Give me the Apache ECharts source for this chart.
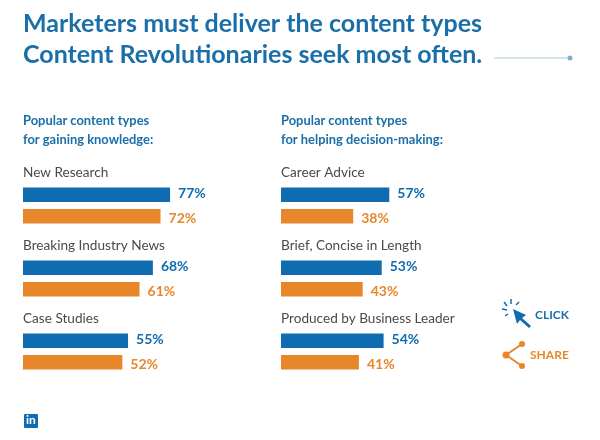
<!DOCTYPE html>
<html lang="en">
<head>
<meta charset="UTF-8">
<title>Content types</title>
<script src="https://cdn.jsdelivr.net/npm/echarts@6/dist/echarts.min.js"></script>
<style>
    html, body { margin: 0; padding: 0; background: #fff; }
    #container { width: 600px; height: 440px; }
</style>
</head>
<body>
<div id="container"></div>
<script type="text/javascript">
    var knowledgeTypes = ['New Research', 'Breaking Industry News', 'Case Studies'];
    var knowledgeBlue = [77, 68, 55];
    var knowledgeOrange = [72, 61, 52];
    var decisionTypes = ['Career Advice', 'Brief, Concise in Length', 'Produced by Business Leader'];
    var decisionBlue = [57, 53, 54];
    var decisionOrange = [38, 43, 41];

    var BLUE = '#0f6cb0';
    var ORANGE = '#e8862a';
    var TITLE_BLUE = '#1b6fa8';
    var FONT = 'Lato, "Noto Sans", sans-serif';

    var myChart = echarts.init(document.getElementById('container'), null, { renderer: 'canvas' });

    function barSeries(index, values, color, labelShift) {
        return {
            type: 'bar',
            xAxisIndex: index,
            yAxisIndex: index,
            data: values,
            barWidth: 14.5,
            barGap: '48%',
            silent: true,
            itemStyle: { color: color },
            label: {
                show: true,
                position: 'right',
                distance: 8,
                offset: [0, labelShift],
                formatter: '{c}%',
                color: color,
                fontFamily: FONT,
                fontWeight: 'bold',
                fontSize: 14
            }
        };
    }

    function catAxis(index, names) {
        return {
            type: 'category',
            gridIndex: index,
            inverse: true,
            data: names,
            axisLine: { show: false },
            axisTick: { show: false },
            axisLabel: {
                inside: true,
                margin: 0,
                align: 'left',
                verticalAlign: 'middle',
                hideOverlap: false,
                interval: 0,
                // empty second line pushes the name up above its bars
                formatter: function (name) { return '{name|' + name + '}\n{gap|}'; },
                rich: {
                    name: { color: '#4a4a4a', fontFamily: FONT, fontSize: 13.6, height: 16, align: 'left' },
                    gap: { height: 65 }
                }
            }
        };
    }

    function valAxis(index) {
        return { type: 'value', gridIndex: index, min: 0, max: 100, show: false };
    }

    var subStyle = { color: TITLE_BLUE, fontFamily: FONT, fontWeight: 'bold', fontSize: 12.9, lineHeight: 19 };

    var option = {
        animation: false,
        backgroundColor: '#fff',
        title: [
            {
                text: 'Marketers must deliver the content types\nContent Revolutionaries seek most often.',
                left: 23, top: 8, padding: 0,
                textStyle: { color: TITLE_BLUE, fontFamily: FONT, fontWeight: 'bold', fontSize: 25, lineHeight: 31 }
            },
            { text: 'Popular content types\nfor gaining knowledge:', left: 23, top: 111, padding: 0, textStyle: subStyle },
            { text: 'Popular content types\nfor helping decision-making:', left: 281, top: 111, padding: 0, textStyle: subStyle }
        ],
        grid: [
            { left: 23, top: 169, width: 191, height: 219 },
            { left: 281, top: 169, width: 190, height: 219 }
        ],
        xAxis: [valAxis(0), valAxis(1)],
        yAxis: [catAxis(0, knowledgeTypes), catAxis(1, decisionTypes)],
        series: [
            barSeries(0, knowledgeBlue, BLUE, -1),
            barSeries(0, knowledgeOrange, ORANGE, 2),
            barSeries(1, decisionBlue, BLUE, -1),
            barSeries(1, decisionOrange, ORANGE, 2)
        ],
        // decoration: rule after the title, click / share icons, logo
        graphic: [
            { type: 'line', shape: { x1: 494, y1: 58, x2: 570, y2: 58 }, style: { stroke: '#a9cbdd', lineWidth: 1 } },
            { type: 'circle', shape: { cx: 570, cy: 58, r: 2.5 }, style: { fill: '#7fb0c8' } },

            { type: 'line', shape: { x1: 511, y1: 299, x2: 511, y2: 304 }, style: { stroke: BLUE, lineWidth: 1.5 } },
            { type: 'line', shape: { x1: 504, y1: 302, x2: 507, y2: 306 }, style: { stroke: BLUE, lineWidth: 1.5 } },
            { type: 'line', shape: { x1: 502, y1: 309, x2: 507, y2: 310 }, style: { stroke: BLUE, lineWidth: 1.5 } },
            { type: 'line', shape: { x1: 505, y1: 316, x2: 508, y2: 314 }, style: { stroke: BLUE, lineWidth: 1.5 } },
            { type: 'line', shape: { x1: 519, y1: 302, x2: 516, y2: 305 }, style: { stroke: BLUE, lineWidth: 1.5 } },
            { type: 'polygon', shape: { points: [[513, 309], [526, 315], [522, 318], [531, 326], [529, 328], [520, 320], [517, 324]] }, style: { fill: BLUE } },
            { type: 'text', left: 535, top: 309, style: { text: 'CLICK', fill: TITLE_BLUE, font: 'bold 12px ' + FONT } },

            { type: 'polyline', shape: { points: [[522, 344], [506, 355], [522, 366]] }, style: { stroke: ORANGE, lineWidth: 2, fill: 'none' } },
            { type: 'circle', shape: { cx: 522, cy: 344, r: 3 }, style: { fill: ORANGE } },
            { type: 'circle', shape: { cx: 506, cy: 355, r: 3.5 }, style: { fill: ORANGE } },
            { type: 'circle', shape: { cx: 522, cy: 366, r: 3 }, style: { fill: ORANGE } },
            { type: 'text', left: 530, top: 349, style: { text: 'SHARE', fill: ORANGE, font: 'bold 12px ' + FONT } },

            { type: 'rect', shape: { x: 24, y: 414, width: 14, height: 14, r: 1 }, style: { fill: BLUE } },
            { type: 'text', left: 26, top: 414, style: { text: 'in', fill: '#fff', font: 'bold 12px ' + FONT } }
        ]
    };
    myChart.setOption(option);
</script>
</body>
</html>
